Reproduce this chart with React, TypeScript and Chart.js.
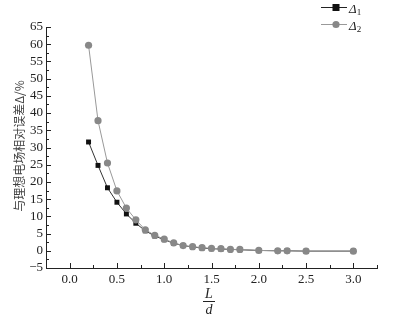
import React, { useEffect, useRef } from "react";
import { Chart, registerables } from "chart.js";

Chart.register(...registerables);

const xValues = [0.2, 0.3, 0.4, 0.5, 0.6, 0.7, 0.8, 0.9, 1.0, 1.1, 1.2, 1.3, 1.4, 1.5, 1.6, 1.7, 1.8, 2.0, 2.2, 2.3, 2.5, 3.0];
const delta1 = [31.6, 24.8, 18.3, 14.1, 10.7, 8.0, 5.8, 4.3, 3.2, 2.2, 1.5, 1.1, 0.8, 0.6, 0.5, 0.4, 0.3, 0.1, 0.0, 0.0, -0.1, -0.1];
const delta2 = [59.7, 37.8, 25.5, 17.4, 12.4, 9.0, 6.1, 4.5, 3.4, 2.3, 1.5, 1.2, 0.9, 0.7, 0.6, 0.4, 0.4, 0.1, 0.0, 0.0, -0.1, -0.1];
const xTicks = [0, 0.5, 1.0, 1.5, 2.0, 2.5, 3.0];
const xMinorTicks = [-0.25, 0.25, 0.75, 1.25, 1.75, 2.25, 2.75, 3.25];
const yTicks = [-5, 0, 5, 10, 15, 20, 25, 30, 35, 40, 45, 50, 55, 60, 65];
const yMinorTicks = [-2.5, 2.5, 7.5, 12.5, 17.5, 22.5, 27.5, 32.5, 37.5, 42.5, 47.5, 52.5, 57.5, 62.5];
const yTitle = "与理想电场相对误差Δ/%";
const seriesNames = ["Δ", "Δ"];
const seriesSubs = ["1", "2"];

const SERIF = "'Liberation Serif', 'DejaVu Serif', serif";

const decorPlugin = {
  id: "decor",
  afterDraw(chart: any) {
    const ctx = chart.ctx;
    const xs = chart.scales.x;
    const ys = chart.scales.y;
    const area = chart.chartArea;
    ctx.save();
    ctx.strokeStyle = "#222";
    ctx.lineWidth = 1;
    const drawX = (v: number, len: number) => {
      const px = Math.round(xs.getPixelForValue(v)) + 0.5;
      ctx.beginPath();
      ctx.moveTo(px, area.bottom);
      ctx.lineTo(px, area.bottom - len);
      ctx.stroke();
    };
    xTicks.forEach((v) => drawX(v, 5));
    xMinorTicks.forEach((v) => drawX(v, 3));
    const drawY = (v: number, len: number) => {
      const py = Math.round(ys.getPixelForValue(v)) + 0.5;
      ctx.beginPath();
      ctx.moveTo(area.left, py);
      ctx.lineTo(area.left + len, py);
      ctx.stroke();
    };
    yTicks.forEach((v) => drawY(v, 5));
    yMinorTicks.forEach((v) => drawY(v, 3));

    ctx.save();
    ctx.translate(19, 146);
    ctx.rotate(-Math.PI / 2);
    ctx.fillStyle = "#444";
    ctx.font = "12px 'Noto Sans CJK SC', sans-serif";
    ctx.textAlign = "center";
    ctx.textBaseline = "middle";
    ctx.fillText(yTitle, 0, 0);
    ctx.restore();

    const cx = 209;
    ctx.fillStyle = "#222";
    ctx.font = `italic 14px ${SERIF}`;
    ctx.textAlign = "center";
    ctx.textBaseline = "alphabetic";
    ctx.fillText("L", cx, 298);
    ctx.beginPath();
    ctx.moveTo(cx - 6, 301.5);
    ctx.lineTo(cx + 6, 301.5);
    ctx.stroke();
    ctx.fillText("d", cx, 314);

    const items = [
      { y: 7.5, line: "#222", fill: "#111", shape: "square" },
      { y: 24.5, line: "#999", fill: "#888", shape: "circle" },
    ];
    items.forEach((it, i) => {
      ctx.strokeStyle = it.line;
      ctx.beginPath();
      ctx.moveTo(321, it.y);
      ctx.lineTo(347, it.y);
      ctx.stroke();
      ctx.fillStyle = it.fill;
      if (it.shape === "square") {
        ctx.fillRect(332.5, it.y - 3.5, 7, 7);
      } else {
        ctx.beginPath();
        ctx.arc(336, it.y, 3.6, 0, Math.PI * 2);
        ctx.fill();
      }
      ctx.fillStyle = "#222";
      ctx.textAlign = "left";
      ctx.font = `italic 13px ${SERIF}`;
      ctx.fillText(seriesNames[i], 349, it.y + 5);
      const w = ctx.measureText(seriesNames[i]).width;
      ctx.font = `9px ${SERIF}`;
      ctx.fillText(seriesSubs[i], 349 + w, it.y + 7);
    });
    ctx.restore();
  },
};

export default function App() {
  const ref = useRef<HTMLCanvasElement>(null);
  useEffect(() => {
    document.body.style.margin = "0";
    const canvas = ref.current!;
    const chart = new Chart(canvas, {
      type: "line",
      data: {
        datasets: [
          {
            label: "Δ1",
            data: xValues.map((x, i) => ({ x, y: delta1[i] })),
            borderColor: "#333",
            borderWidth: 1,
            backgroundColor: "#111",
            pointStyle: "rect",
            pointRadius: 3.5,
            pointBorderWidth: 0,
            order: 1,
          },
          {
            label: "Δ2",
            data: xValues.map((x, i) => ({ x, y: delta2[i] })),
            borderColor: "#999",
            borderWidth: 1,
            backgroundColor: "#888",
            pointStyle: "circle",
            pointRadius: 3.6,
            pointBorderWidth: 0,
            order: 0,
          },
        ],
      },
      options: {
        responsive: false,
        animation: false,
        layout: { padding: { top: 27, right: 28, left: 0, bottom: 0 } },
        plugins: { legend: { display: false }, tooltip: { enabled: false } },
        scales: {
          x: {
            type: "linear",
            min: -0.25,
            max: 3.25,
            afterBuildTicks: (s: any) => {
              s.ticks = xTicks.map((v) => ({ value: v }));
            },
            afterFit: (s: any) => {
              s.height = 51;
            },
            grid: { display: false, drawTicks: false },
            border: { display: true, color: "#222", width: 1 },
            ticks: {
              autoSkip: false,
              maxRotation: 0,
              padding: 4,
              color: "#222",
              font: { family: SERIF, size: 13 },
              callback: (v: any) => Number(v).toFixed(1),
            },
          },
          y: {
            type: "linear",
            min: -5,
            max: 65,
            afterBuildTicks: (s: any) => {
              s.ticks = yTicks.map((v) => ({ value: v }));
            },
            afterFit: (s: any) => {
              s.width = 46;
            },
            grid: { display: false, drawTicks: false },
            border: { display: true, color: "#222", width: 1 },
            ticks: {
              autoSkip: false,
              padding: 3,
              color: "#222",
              font: { family: SERIF, size: 13 },
              callback: (v: any) => (Number(v) < 0 ? "\u2212" + Math.abs(Number(v)) : String(v)),
            },
          },
        },
      },
      plugins: [decorPlugin],
    } as any);
    return () => chart.destroy();
  }, []);
  return (
    <div style={{ position: "absolute", left: 0, top: 0, width: 405, height: 319, background: "#fff" }}>
      <canvas ref={ref} width={405} height={319} style={{ display: "block" }} />
    </div>
  );
}
